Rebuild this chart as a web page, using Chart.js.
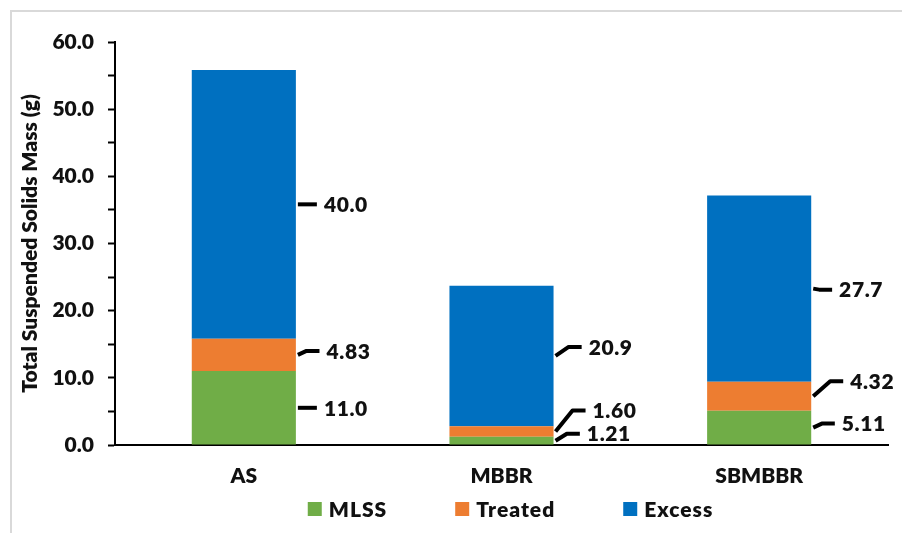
<!DOCTYPE html>
<html>
<head>
<meta charset="utf-8">
<script src="https://cdn.jsdelivr.net/npm/chart.js@4.4.1/dist/chart.umd.min.js"></script>
<style>
  html, body { margin: 0; padding: 0; background: #fff; }
  #wrap { width: 902px; height: 533px; }
</style>
</head>
<body>
<div id="wrap"><canvas id="c" width="902" height="533"></canvas></div>
<script>
// Reactor configurations on the x axis
const categories = ['AS', 'MBBR', 'SBMBBR'];

// Suspended solids mass per fraction (g)
const mlss    = [11.0, 1.21, 5.11];
const treated = [4.83, 1.60, 4.32];
const excess  = [40.0, 20.9, 27.7];

const seriesNames  = ['MLSS', 'Treated', 'Excess'];
const seriesColors = ['#70AD47', '#ED7D31', '#0070C0'];

// y axis range and tick spacing (labels every 10 g, ticks every 5 g)
const yMin = 0, yMax = 60, yStep = 5;

// vertical nudge (px) of each value label so neighbouring labels stay apart
const labelNudge = [
  [0, -7, -4],     // MLSS
  [-4, -21, -15],  // Treated
  [0, -9, 1]       // Excess
];

const FONT = 'Lato, "Open Sans", sans-serif';
const FW = '800';
const FS = 21;
const TXT = '#111';

// Frame around the figure
const framePlugin = {
  id: 'frame',
  beforeDraw(chart) {
    const ctx = chart.ctx;
    ctx.save();
    ctx.fillStyle = '#fff';
    ctx.fillRect(0, 0, chart.width, chart.height);
    ctx.strokeStyle = '#d9d9d9';
    ctx.lineWidth = 2;
    ctx.strokeRect(11, 11, chart.width + 20, chart.height + 20);
    ctx.restore();
  }
};

// Value labels with leader lines to the right of each stacked segment
const leaderLabels = {
  id: 'leaderLabels',
  afterDatasetsDraw(chart) {
    const ctx = chart.ctx;
    ctx.save();
    ctx.font = FW + ' ' + FS + 'px ' + FONT;
    ctx.letterSpacing = '0.6px';
    ctx.textBaseline = 'middle';
    ctx.textAlign = 'left';
    chart.data.datasets.forEach((ds, di) => {
      const meta = chart.getDatasetMeta(di);
      meta.data.forEach((bar, i) => {
        const v = ds.data[i];
        const xr = bar.x + bar.width / 2;
        const ySeg = (bar.y + bar.base) / 2;
        const dy = labelNudge[di][i];
        const yLab = ySeg + dy;
        const dx = dy === 0 ? 0 : Math.min(Math.abs(dy) * 0.9 + 5, 17);
        const hLen = dy === 0 ? 19 : 13;
        const x0 = xr + 2;
        const xKnee = x0 + dx;
        const xEnd = xKnee + hLen;
        ctx.strokeStyle = '#000';
        ctx.lineWidth = 4;
        ctx.lineJoin = 'round';
        ctx.lineCap = 'butt';
        ctx.beginPath();
        ctx.moveTo(x0, ySeg);
        if (dy !== 0) ctx.lineTo(xKnee, yLab);
        ctx.lineTo(xEnd, yLab);
        ctx.stroke();
        ctx.fillStyle = TXT;
        ctx.fillText(v.toPrecision(3), xEnd + 7, yLab + 1);
      });
    });
    ctx.restore();
  }
};

// Legend row under the category labels
const bottomLegend = {
  id: 'bottomLegend',
  afterDraw(chart) {
    const ctx = chart.ctx;
    const area = chart.chartArea;
    ctx.save();
    ctx.font = FW + ' ' + FS + 'px ' + FONT;
    ctx.letterSpacing = '1px';
    ctx.textBaseline = 'middle';
    ctx.textAlign = 'left';
    const box = 14, gapText = 7, gapItem = 68;
    const items = chart.data.datasets.map(ds => ({
      label: ds.label, color: ds.backgroundColor, w: ctx.measureText(ds.label).width
    }));
    const total = items.reduce((s, it) => s + box + gapText + it.w, 0) + gapItem * (items.length - 1);
    let x = (area.left + area.right) / 2 + 9 - total / 2;
    const y = 509;
    items.forEach(it => {
      ctx.fillStyle = it.color;
      ctx.fillRect(x, y - box / 2, box, box);
      ctx.fillStyle = TXT;
      ctx.fillText(it.label, x + box + gapText, y + 1);
      x += box + gapText + it.w + gapItem;
    });
    ctx.restore();
  }
};

const seriesValues = [mlss, treated, excess];
const axisFont = { family: FONT, size: FS, weight: FW };

new Chart(document.getElementById('c'), {
  type: 'bar',
  data: {
    labels: categories,
    datasets: seriesNames.map((name, k) => ({
      label: name,
      data: seriesValues[k],
      backgroundColor: seriesColors[k],
      borderWidth: 0,
      barPercentage: 0.404,
      categoryPercentage: 1.0
    }))
  },
  options: {
    responsive: false,
    animation: false,
    devicePixelRatio: 1,
    layout: { padding: { left: 12, right: 14, top: 42, bottom: 46 } },
    plugins: {
      legend: { display: false },
      tooltip: { enabled: false }
    },
    scales: {
      x: {
        stacked: true,
        afterFit(scale) { scale.height = 42; },
        grid: { display: true, drawOnChartArea: false, drawTicks: false },
        border: { display: true, color: '#000', width: 2 },
        ticks: { padding: 19, color: TXT, font: axisFont }
      },
      y: {
        stacked: true,
        min: yMin,
        max: yMax,
        afterFit(scale) { scale.width = 115 - 12; },
        grid: {
          drawOnChartArea: false,
          drawTicks: true,
          tickLength: 7,
          tickColor: '#000',
          tickWidth: 2
        },
        border: { display: true, color: '#000', width: 2 },
        ticks: {
          stepSize: yStep,
          padding: 14,
          color: TXT,
          font: axisFont,
          callback: v => (v % 10 === 0 ? v.toFixed(1) : '')
        },
        title: {
          display: true,
          text: 'Total Suspended Solids Mass (g)',
          color: TXT,
          font: axisFont,
          padding: { top: 6, bottom: 0 }
        }
      }
    }
  },
  plugins: [framePlugin, leaderLabels, bottomLegend]
});
</script>
</body>
</html>
